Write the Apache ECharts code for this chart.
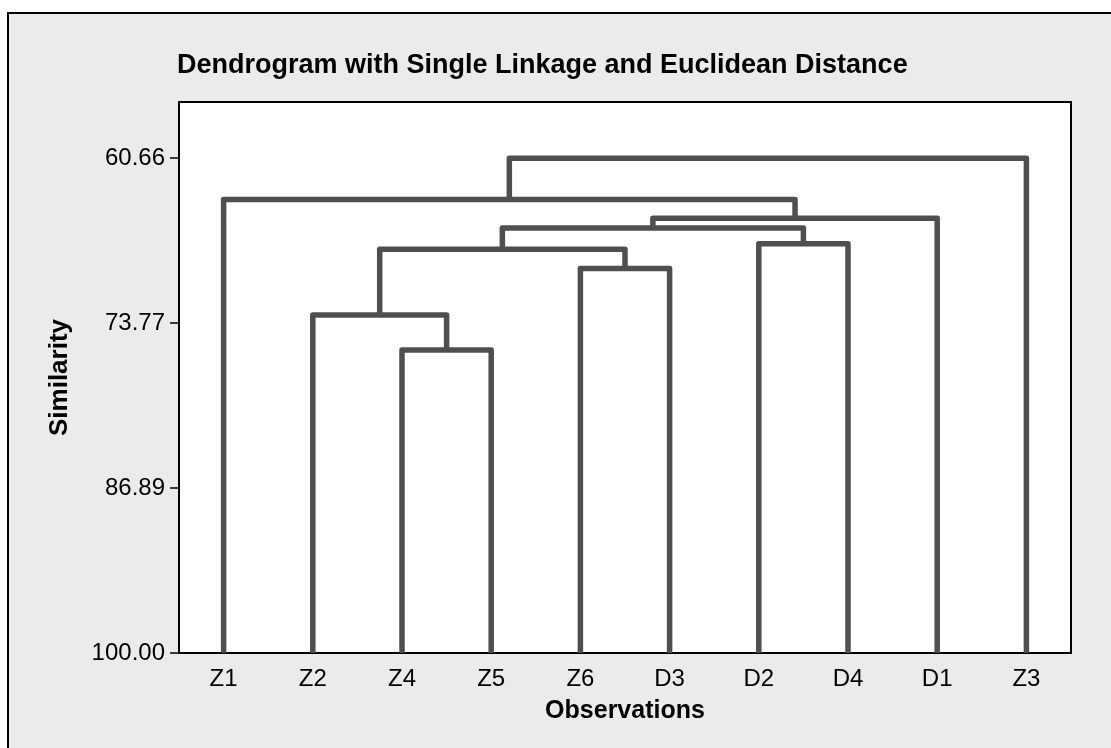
<!DOCTYPE html>
<html>
<head>
<meta charset="utf-8">
<script src="https://cdn.jsdelivr.net/npm/echarts@6/dist/echarts.min.js"></script>
<style>
html,body{margin:0;padding:0;background:#fff;}
#chart{width:1111px;height:748px;}
</style>
</head>
<body>
<div id="chart"></div>
<script>
// Leaf order along the x axis
const categories = ['Z1', 'Z2', 'Z4', 'Z5', 'Z6', 'D3', 'D2', 'D4', 'D1', 'Z3'];
// Merge steps (single linkage): cluster name, left child, right child, similarity level
const mergeNames = ['C1', 'C2', 'C3', 'C4', 'C5', 'C6', 'C7', 'C8', 'C9'];
const mergeLeft = ['Z4', 'Z2', 'Z6', 'C2', 'D2', 'C4', 'C6', 'Z1', 'C8'];
const mergeRight = ['Z5', 'C1', 'D3', 'C3', 'D4', 'C5', 'D1', 'C7', 'Z3'];
const mergeSimilarity = [75.91, 73.13, 69.42, 67.89, 67.47, 66.20, 65.44, 63.94, 60.66];
// Y axis tick values
const yTickValues = [60.66, 73.77, 86.89, 100.00];

const FONT = '"Liberation Sans", Arial, Helvetica, sans-serif';
const LINE_COLOR = '#4f4f4f';

// Build link data from the tree structure
const node = {};
categories.forEach((c, i) => { node[c] = { x: i, h: 100 }; });
const links = [];
mergeNames.forEach((name, i) => {
  const L = node[mergeLeft[i]], R = node[mergeRight[i]];
  const h = mergeSimilarity[i];
  links.push([L.x, L.h, R.x, R.h, h]);
  node[name] = { x: (L.x + R.x) / 2, h: h };
});

const chart = echarts.init(document.getElementById('chart'), null, { renderer: 'canvas' });
chart.setOption({
  backgroundColor: '#ffffff',
  animation: false,
  graphic: [{
    type: 'rect', z: -10, silent: true,
    shape: { x: 8, y: 13, width: 1200, height: 800 },
    style: { fill: '#ebebeb', stroke: '#000', lineWidth: 2 }
  }],
  title: {
    text: 'Dendrogram with Single Linkage and Euclidean Distance',
    left: 177, top: 52, padding: 0,
    textStyle: { fontFamily: FONT, fontSize: 27, fontWeight: 'bold', color: '#000' }
  },
  grid: {
    left: 179, top: 102, right: 40, bottom: 95,
    show: true, backgroundColor: '#ffffff', borderColor: '#000', borderWidth: 2
  },
  xAxis: [{
    type: 'category', data: categories, boundaryGap: true,
    name: 'Observations', nameLocation: 'middle', nameGap: 46,
    nameTextStyle: { fontFamily: FONT, fontSize: 25, fontWeight: 'bold', color: '#000' },
    axisLine: { onZero: false, lineStyle: { color: '#000', width: 2 } },
    axisTick: { alignWithLabel: true, length: 10, lineStyle: { color: '#000', width: 1.5 } },
    axisLabel: { fontFamily: FONT, fontSize: 24, color: '#000', margin: 14 },
    splitLine: { show: false }
  }, {
    type: 'value', min: -0.5, max: 9.5, show: false
  }],
  yAxis: [{
    type: 'value', inverse: true, min: 56.19, max: 100,
    name: 'Similarity', nameLocation: 'middle', nameGap: 106, nameRotate: 90,
    nameTextStyle: { fontFamily: FONT, fontSize: 26, fontWeight: 'bold', color: '#000' },
    axisLine: { show: true, onZero: false, lineStyle: { color: '#000', width: 2 } },
    axisTick: { show: true, length: 9, customValues: yTickValues, lineStyle: { color: '#000', width: 1.5 } },
    axisLabel: {
      fontFamily: FONT, fontSize: 24, color: '#000', margin: 14,
      customValues: yTickValues,
      formatter: v => Number(v).toFixed(2)
    },
    splitLine: { show: false }
  }],
  series: [{
    type: 'custom',
    coordinateSystem: 'cartesian2d',
    xAxisIndex: 1, yAxisIndex: 0,
    data: links,
    encode: { x: [0, 2], y: [1, 3, 4] },
    renderItem: function (params, api) {
      const p1 = api.coord([api.value(0), api.value(1)]);
      const p2 = api.coord([api.value(0), api.value(4)]);
      const p3 = api.coord([api.value(2), api.value(4)]);
      const p4 = api.coord([api.value(2), api.value(3)]);
      return {
        type: 'polyline',
        shape: { points: [p1, p2, p3, p4] },
        style: { stroke: LINE_COLOR, lineWidth: 5.5, fill: null, lineJoin: 'round', lineCap: 'butt' }
      };
    }
  }]
});
</script>
</body>
</html>
